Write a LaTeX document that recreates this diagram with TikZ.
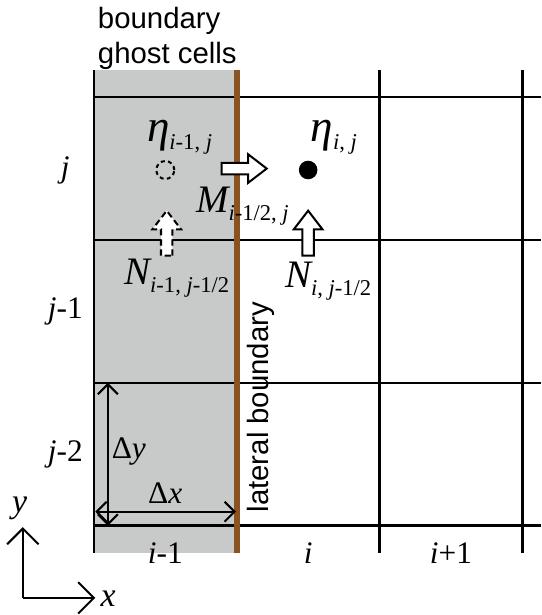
\documentclass[tikz,border=0pt]{standalone}
\usepackage{xcolor}
\usepackage{fontspec}
\setmainfont{Liberation Serif}
\newfontfamily\arialfont{Liberation Sans}
\usepackage{tikz}
\usetikzlibrary{arrows.meta}

\definecolor{ghostgray}{RGB}{200,201,201}
\definecolor{boundbrown}{RGB}{139,82,34}

% subscripts a bit lower and smaller than the symbol
\newcommand{\lowsub}[1]{\raisebox{-0.7ex}{\fontsize{9}{9}\selectfont #1}}
\newcommand{\bigsym}{\fontsize{15.5}{15.5}\selectfont\itshape}
\newcommand{\etasym}{\fontsize{18}{18}\selectfont\itshape}

\tikzset{
  gridline/.style={line width=1pt},
  gridlabel/.style={font=\fontsize{12.5}{12.5}\selectfont},
  sanslabel/.style={font=\arialfont\fontsize{11.7}{14}\selectfont},
  flux/.pic={\draw[fill=white, line width=0.8pt, line join=miter, pic actions]
    (0,-0.04) -- (0.185,-0.04) -- (0.185,-0.1) -- (0.315,0)
    -- (0.185,0.1) -- (0.185,0.04) -- (0,0.04) -- cycle;}
}

\begin{document}
\begin{tikzpicture}[x=2cm,y=2cm]
    \useasboundingbox (-0.657,-0.625) rectangle (3.133,3.68);

    % Here is the ghost column
    \fill[ghostgray] (0,-0.19) rectangle (1,3.19);

    % grid lines
    \foreach \y in {0,1,2,3}
        \draw[gridline] (0,\y) -- (3.133,\y);
    \foreach \x in {0,2,3}
        \draw[gridline] (\x,-0.19) -- (\x,3.19);

    % the lateral boundary
    \draw[boundbrown, line width=2.3pt] (1,-0.19) -- (1,3.19);

    % using node for text
    \node[sanslabel, anchor=north west, inner sep=0pt, align=left] (ghost) at (0.025,3.635) {boundary\\ghost cells};
    \node[sanslabel, rotate=90] (lateral) at (1.17,0.83) {lateral boundary};

    \node[gridlabel] (rowj) at (-0.2,2.49) {\itshape j};
    \node[gridlabel] (rowjm) at (-0.2,1.5) {{\itshape j}-1};
    \node[gridlabel] (rowjmm) at (-0.2,0.5) {{\itshape j}-2};
    \node[gridlabel] (colim) at (0.5,-0.19) {{\itshape i}-1};
    \node[gridlabel] (coli) at (1.5,-0.19) {\itshape i};
    \node[gridlabel] (colip) at (2.5,-0.19) {{\itshape i}+1};

    % cell centres
    \node[circle, draw, dash pattern=on 1.6pt off 1.3pt, line width=0.8pt, minimum size=0.126*2cm, inner sep=0pt] (ghostc) at (0.5,2.49) {};
    \node[circle, fill, minimum size=0.13*2cm, inner sep=0pt] (cellc) at (1.5,2.49) {};

    \node (etaghost) at (0.6,2.72) {{\etasym η}\lowsub{\itshape i\upshape-1, \itshape j}};
    \node (etacell) at (1.68,2.72) {{\etasym η}\lowsub{\itshape i\upshape, \itshape j}};

    % fluxes
    \pic at (0.895,2.5) {flux};
    \pic[rotate=90, dash pattern=on 2.5pt off 1.5pt] at (0.51,1.89) {flux};
    \pic[rotate=90] at (1.5,1.89) {flux};

    \node (mflux) at (1.04,2.24) {{\bigsym M}\lowsub{\itshape i\upshape-1/2, \itshape j}};
    \node (nghost) at (0.58,1.73) {{\bigsym N}\lowsub{\itshape i\upshape-1, \itshape j\upshape-1/2}};
    \node (ncell) at (1.64,1.71) {{\bigsym N}\lowsub{\itshape i\upshape, \itshape j\upshape-1/2}};

    % Here is the cell size
    \coordinate (dyb) at (0.098,0);
    \coordinate (dyt) at (0.098,1);
    \coordinate (dxl) at (0.01,0.098);
    \coordinate (dxr) at (0.995,0.098);
    \draw[line width=0.8pt, {Straight Barb[length=1.4mm]}-{Straight Barb[length=1.4mm]}] (dyb) -- (dyt);
    \draw[line width=0.8pt, {Straight Barb[length=1.4mm]}-{Straight Barb[length=1.4mm]}] (dxl) -- (dxr);
    \node[gridlabel] (dy) at (0.245,0.52) {Δ\itshape y};
    \node[gridlabel] (dx) at (0.5,0.225) {Δ\itshape x};

    % axes
    \coordinate (org) at (-0.497,-0.505);
    \coordinate (ytip) at (-0.497,-0.01);
    \coordinate (xtip) at (0.01,-0.505);
    \draw[line width=0.8pt, -{Straight Barb[length=2.2mm]}] (org) -- (ytip);
    \draw[line width=0.8pt, -{Straight Barb[length=2.2mm]}] (org) -- (xtip);
    \node[font=\fontsize{13.5}{13.5}\selectfont\itshape] (ylab) at (-0.52,0.12) {y};
    \node[font=\fontsize{13.5}{13.5}\selectfont\itshape] (xlab) at (0.1,-0.51) {x};
\end{tikzpicture}
\end{document}
